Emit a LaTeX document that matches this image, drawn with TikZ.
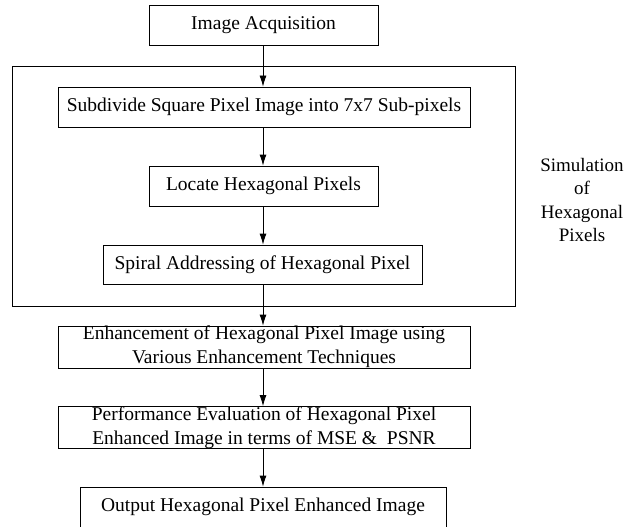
\documentclass[tikz,border=0pt]{standalone}
\usepackage{fontspec}
\setmainfont{Liberation Serif}
\usetikzlibrary{arrows.meta}
\begin{document}
\begin{tikzpicture}[x=1pt,y=-1pt,
  stepbox/.style={draw, line width=0.8pt, inner sep=0pt, align=center,
    font=\fontsize{19.5}{24}\selectfont},
  arr/.style={line width=0.8pt, -{Latex[length=11pt,width=7pt]}}]
\useasboundingbox (0,0) rectangle (627,527);
\node[draw, line width=0.8pt, minimum width=503pt, minimum height=240pt] (frame) at (263.5,186) {};
\node[stepbox, minimum width=229pt, minimum height=40pt] (acq) at (263.5,25) {Image Acquisition};
\node[stepbox, minimum width=412pt, minimum height=40pt] (sub) at (264,107) {Subdivide Square Pixel Image into 7x7 Sub-pixels};
\node[stepbox, minimum width=229pt, minimum height=40pt] (loc) at (263.5,186) {Locate Hexagonal Pixels};
\node[stepbox, minimum width=319pt, minimum height=39pt] (spi) at (262.5,264.5) {Spiral Addressing of Hexagonal Pixel};
\node[stepbox, minimum width=412pt, minimum height=42pt] (enh) at (264,347) {Enhancement of Hexagonal Pixel Image using\\Various Enhancement Techniques};
\node[stepbox, minimum width=412pt, minimum height=41pt] (per) at (264,427.5) {Performance Evaluation of Hexagonal Pixel\\Enhanced Image in terms of MSE \&\ \ PSNR};
\node[stepbox, minimum width=366pt, minimum height=40pt] (out) at (263,507) {Output Hexagonal Pixel Enhanced Image};
\node[align=center, font=\fontsize{19}{23.5}\selectfont, inner sep=0pt] (side) at (582,200) {Simulation\\of\\Hexagonal\\Pixels};
\draw[arr] (acq.south -| 263,0) -- (sub.north -| 263,0);
\draw[arr] (sub.south -| 263,0) -- (loc.north -| 263,0);
\draw[arr] (loc.south -| 263,0) -- (spi.north -| 263,0);
\draw[arr] (spi.south -| 263,0) -- (enh.north -| 263,0);
\draw[arr] (enh.south -| 263,0) -- (per.north -| 263,0);
\draw[arr] (per.south -| 263,0) -- (out.north -| 263,0);
\end{tikzpicture}
\end{document}
